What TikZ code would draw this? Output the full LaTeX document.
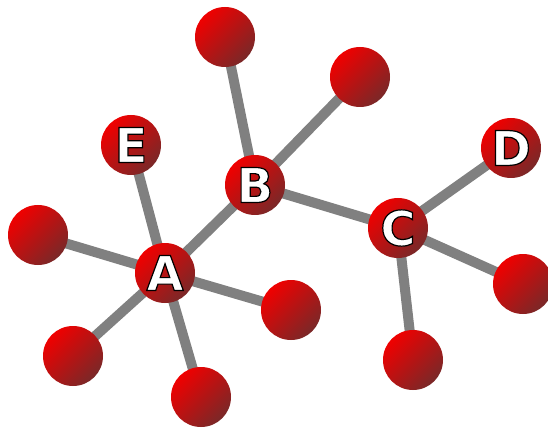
\documentclass[tikz,border=0pt]{standalone}
\usepackage{fontspec}
\setmainfont{DejaVu Sans}
\newfontfamily\lblfont[FakeBold=2.5]{DejaVu Sans Bold}
\usetikzlibrary{backgrounds}
\definecolor{ballred}{HTML}{F00000}
\definecolor{balldark}{HTML}{7A2828}
\definecolor{bondgray}{HTML}{808080}
\tikzset{
  ball/.style={circle, inner sep=0pt, minimum size=60pt,
    top color=ballred, bottom color=balldark, shading angle=45,
    font=\fontsize{48}{48}\lblfont},
  bond/.style={draw=bondgray, line width=10pt}
}
%% white letter, black stroke
\newcommand\lbl[1]{\special{pdf:bcolor [1 1 1] [0 0 0]}#1\special{pdf:ecolor}}

\begin{document}
\begin{tikzpicture}[x=1pt, y=-1pt]

\useasboundingbox (0,0) rectangle (548,430); %% frame

%% labelled atoms
\node[ball] (a) at (165,273) {\lbl{A}};
\node[ball] (b) at (255,185) {\lbl{B}};
\node[ball] (c) at (398,228) {\lbl{C}};
\node[ball] (d) at (511,148) {\lbl{D}};
\node[ball] (e) at (131,145) {\lbl{E}};

%% plain atoms
\node[ball] (bt) at (225,37) {};
\node[ball] (br) at (360,77) {};
\node[ball] (al) at (38,235) {};
\node[ball] (abl) at (73,356) {};
\node[ball] (ab) at (201,397) {};
\node[ball] (ar) at (291,310) {};
\node[ball] (cr) at (523,284) {};
\node[ball] (cb) at (413,360) {};

\begin{scope}[on background layer]
\draw[bond] (a.center)--(b.center);
\draw[bond] (a.center)--(e.center);
\draw[bond] (a.center)--(al.center);
\draw[bond] (a.center)--(abl.center);
\draw[bond] (a.center)--(ab.center);
\draw[bond] (a.center)--(ar.center);
\draw[bond] (b.center)--(bt.center);
\draw[bond] (b.center)--(br.center);
\draw[bond] (b.center)--(c.center);
\draw[bond] (c.center)--(d.center);
\draw[bond] (c.center)--(cr.center);
\draw[bond] (c.center)--(cb.center);
\end{scope}

\end{tikzpicture}
\end{document}
